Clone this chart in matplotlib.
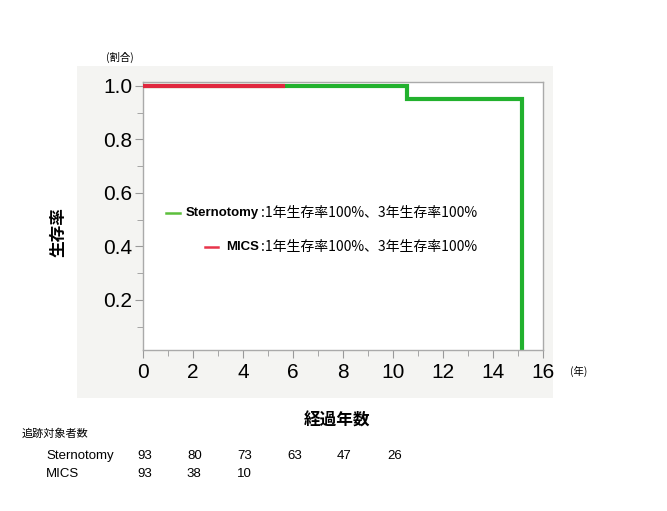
import matplotlib.pyplot as plt
from matplotlib.patches import Rectangle
from matplotlib.transforms import blended_transform_factory

# Kaplan-Meier step data (years, survival)
sternotomy_t = [0, 10.55, 15.15, 15.15]
sternotomy_s = [1.0, 0.953, 0.0, 0.0]
mics_t = [0, 5.6]
mics_s = [1.0, 1.0]

# numbers at risk
risk_years = [0, 2, 4, 6, 8, 10]
sternotomy_risk = [93, 80, 73, 63, 47, 26]
mics_risk = [93, 38, 10]

legend_labels = ['Sternotomy', 'MICS']
legend_notes = [':1年生存率100%、3年生存率100%', ':1年生存率100%、3年生存率100%']

green = '#22b12e'
red = '#e0283f'
jp = ['Noto Sans CJK JP', 'DejaVu Sans']
num_font = ['Liberation Sans', 'DejaVu Sans']

fig = plt.figure(figsize=(6.67, 5.11), dpi=100)
fig.patches.append(Rectangle((77 / 667, 1 - 398 / 511), 476 / 667, 332 / 511,
                             transform=fig.transFigure, facecolor='#f4f4f2',
                             edgecolor='none', zorder=-10))

ax = fig.add_axes([143 / 667, 1 - 350 / 511, 400 / 667, 268.3 / 511])
ax.set_facecolor('white')

ax.step(sternotomy_t, sternotomy_s, where='post', color=green, lw=3, solid_joinstyle='miter')
ax.step(mics_t, mics_s, where='post', color=red, lw=3, zorder=3)

ax.set_xlim(0, 16)
ax.set_ylim(0.013, 1.016)
ax.set_xticks(range(0, 17, 2))
ax.set_xticks(range(1, 16, 2), minor=True)
ax.set_yticks([0.2, 0.4, 0.6, 0.8, 1.0])
ax.set_yticks([0.1, 0.3, 0.5, 0.7, 0.9], minor=True)
ax.set_yticklabels(['0.2', '0.4', '0.6', '0.8', '1.0'])

for s in ax.spines.values():
    s.set_color('#aaaaaa')
    s.set_linewidth(1)
ax.tick_params(which='major', length=6, color='#999999', labelsize=15, pad=3)
ax.tick_params(axis='y', which='major', pad=1.5)
ax.tick_params(which='minor', length=4, color='#999999')
for lab in ax.get_xticklabels() + ax.get_yticklabels():
    lab.set_family(num_font)

# legend drawn by hand
ax.plot([0.92, 1.48], [0.525, 0.525], color='#5cbf3c', lw=1.8)
ax.text(4.64, 0.525, legend_labels[0], fontsize=9.5, fontweight='bold', ha='right',
        va='center', family=num_font)
ax.text(4.7, 0.525, legend_notes[0], fontsize=10, va='center', family=jp)
ax.plot([2.48, 3.0], [0.398, 0.398], color='#e8344a', lw=1.8)
ax.text(4.64, 0.398, legend_labels[1], fontsize=9.5, fontweight='bold', ha='right',
        va='center', family=num_font)
ax.text(4.7, 0.398, legend_notes[1], fontsize=10, va='center', family=jp)

fig.text(58 / 667, 1 - 232 / 511, '生存率', rotation=90, fontsize=12, fontweight='bold',
         ha='center', va='center', family=jp)
fig.text(120 / 667, 1 - 57 / 511, '(割合)', fontsize=7.5, ha='center', va='center', family=jp)
fig.text(579 / 667, 1 - 371 / 511, '(年)', fontsize=7.5, ha='center', va='center', family=jp)
fig.text(337 / 667, 1 - 421 / 511, '経過年数', fontsize=12, fontweight='bold',
         ha='center', va='center', family=jp)
fig.text(22 / 667, 1 - 434 / 511, '追跡対象者数', fontsize=8, ha='left', va='center', family=jp)

# numbers at risk table
trans = blended_transform_factory(ax.transData, fig.transFigure)
row_y = [1 - 456 / 511, 1 - 474 / 511]
fig.text(46 / 667, row_y[0], legend_labels[0], fontsize=9.5, va='center', family=num_font)
fig.text(46 / 667, row_y[1], legend_labels[1], fontsize=9.5, va='center', family=num_font)
for yr, n in zip(risk_years, sternotomy_risk):
    ax.text(yr + 0.05, row_y[0], str(n), transform=trans, fontsize=9.5, ha='center',
            va='center', family=num_font, clip_on=False)
for yr, n in zip(risk_years, mics_risk):
    ax.text(yr + 0.05, row_y[1], str(n), transform=trans, fontsize=9.5, ha='center',
            va='center', family=num_font, clip_on=False)

fig.savefig('out.png', dpi=100)
